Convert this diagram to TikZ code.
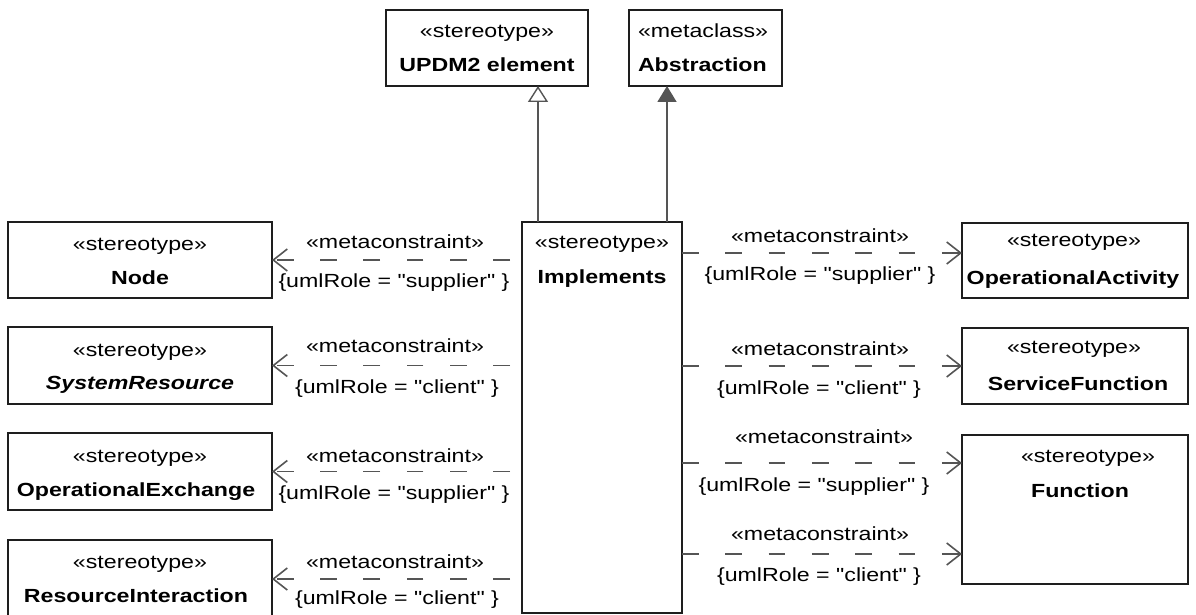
\documentclass[tikz,border=0pt]{standalone}
\usepackage{fontspec}
\setmainfont{Liberation Sans}[FakeStretch=1.22, Ligatures=TeXOff]
\usetikzlibrary{arrows.meta}
\definecolor{edgec}{HTML}{1E1E1E}
\definecolor{connc}{HTML}{555555}
\tikzset{
  umlbox/.style={draw=edgec, line width=1.6pt, fill=white, inner sep=0pt, outer sep=0pt, anchor=north west},
  txt/.style={anchor=base, inner sep=0pt, outer sep=0pt, font=\fontsize{19}{23}\selectfont},
  nm/.style={txt, font=\fontsize{19}{23}\selectfont\bfseries},
  depl/.style={draw=connc, line width=1.6pt, dash pattern=on 16.7pt off 26.6pt, dash phase=31.3pt,
    -{Straight Barb[length=14pt,width=22pt,line width=1.6pt]}},
  depr/.style={draw=connc, line width=1.6pt, dash pattern=on 16.7pt off 26.6pt,
    -{Straight Barb[length=14pt,width=22pt,line width=1.6pt]}},
  gen/.style={draw=connc, line width=1.6pt, -{Triangle[open, length=16pt, width=20pt, fill=white, line width=1.4pt]}},
  ext/.style={draw=connc, line width=1.6pt, -{Triangle[length=16pt, width=19pt, fill=connc]}},
}
\begin{document}
\begin{tikzpicture}[x=1pt,y=-1pt]
\clip (0,0) rectangle (1196,615);
\fill[white] (0,0) rectangle (1196,615);

% boxes
\node[umlbox, minimum width=202pt, minimum height=76pt] (upd) at (386,10) {};
\node[umlbox, minimum width=153pt, minimum height=76pt] (abs) at (629,10) {};
\node[umlbox, minimum width=160pt, minimum height=391pt] (impl) at (522,222) {};
\node[umlbox, minimum width=264pt, minimum height=76pt] (nodeb) at (8,222) {};
\node[umlbox, minimum width=264pt, minimum height=77pt] (sysr) at (8,327) {};
\node[umlbox, minimum width=264pt, minimum height=77pt] (opex) at (8,433) {};
\node[umlbox, minimum width=264pt, minimum height=78pt] (resi) at (8,540) {};
\node[umlbox, minimum width=226pt, minimum height=75pt] (opact) at (962,223) {};
\node[umlbox, minimum width=226pt, minimum height=76pt] (svcf) at (962,328) {};
\node[umlbox, minimum width=226pt, minimum height=149pt] (func) at (962,435) {};

% box texts
\node[txt] (updS) at (487,38) {«stereotype»};
\node[nm] (updN) at (487,72) {UPDM2 element};
\node[txt, anchor=base west] (absS) at (638,38) {«metaclass»};
\node[nm, anchor=base west] (absN) at (638,72) {Abstraction};
\node[txt] (implS) at (602,248) {«stereotype»};
\node[nm] (implN) at (602,283) {Implements};
\node[txt] (nodeS) at (140,250) {«stereotype»};
\node[nm] (nodeN) at (140,284) {Node};
\node[txt] (sysrS) at (140,356) {«stereotype»};
\node[nm, font=\fontsize{19}{23}\selectfont\bfseries\itshape] (sysrN) at (140,389) {SystemResource};
\node[txt] (opexS) at (140,462) {«stereotype»};
\node[nm] (opexN) at (136,496) {OperationalExchange};
\node[txt] (resiS) at (140,568) {«stereotype»};
\node[nm] (resiN) at (136,602) {ResourceInteraction};
\node[txt] (opactS) at (1074,246) {«stereotype»};
\node[nm] (opactN) at (1073,284) {OperationalActivity};
\node[txt] (svcfS) at (1074,353) {«stereotype»};
\node[nm] (svcfN) at (1078,390) {ServiceFunction};
\node[txt] (funcS) at (1088,462) {«stereotype»};
\node[nm] (funcN) at (1080,497) {Function};

% generalization / extension
\path (impl.north west) ++(16,0) coordinate (g1);
\path (impl.north east) ++(-15,0) coordinate (g2);
\draw[gen] (g1) -- (g1 |- upd.south);
\draw[ext] (g2) -- (g2 |- abs.south);

% left dependencies
\draw[depl] (impl.west |- nodeb.east) -- (nodeb.east);
\draw[depl] (impl.west |- sysr.east) -- (sysr.east);
\draw[depl] (impl.west |- opex.east) -- (opex.east);
\draw[depl] (impl.west |- resi.east) -- (resi.east);

% right dependencies
\path ([yshift=7.5pt]opact.west) coordinate (r1);
\path ([yshift=46.5pt]func.west) coordinate (r3);
\path ([yshift=-44.5pt]func.west) coordinate (r4);
\draw[depr] (r1 -| impl.east) -- (r1);
\draw[depr] (impl.east |- svcf.west) -- (svcf.west);
\draw[depr] (r3 -| impl.east) -- (r3);
\draw[depr] (r4 -| impl.east) -- (r4);

% left labels
\node[txt] (l1m) at (395,248) {«metaconstraint»};
\node[txt] (l1c) at (394,287) {\{umlRole = "supplier" \}};
\node[txt] (l2m) at (395,352) {«metaconstraint»};
\node[txt] (l2c) at (397,393) {\{umlRole = "client" \}};
\node[txt] (l3m) at (395,462) {«metaconstraint»};
\node[txt] (l3c) at (394,499) {\{umlRole = "supplier" \}};
\node[txt] (l4m) at (395,568) {«metaconstraint»};
\node[txt] (l4c) at (397,604) {\{umlRole = "client" \}};

% right labels
\node[txt] (r1m) at (820,242) {«metaconstraint»};
\node[txt] (r1c) at (820,280) {\{umlRole = "supplier" \}};
\node[txt] (r2m) at (820,355) {«metaconstraint»};
\node[txt] (r2c) at (819,394) {\{umlRole = "client" \}};
\node[txt] (r3m) at (824,443) {«metaconstraint»};
\node[txt] (r3c) at (814,491) {\{umlRole = "supplier" \}};
\node[txt] (r4m) at (820,540) {«metaconstraint»};
\node[txt] (r4c) at (819,581) {\{umlRole = "client" \}};
\end{tikzpicture}
\end{document}
